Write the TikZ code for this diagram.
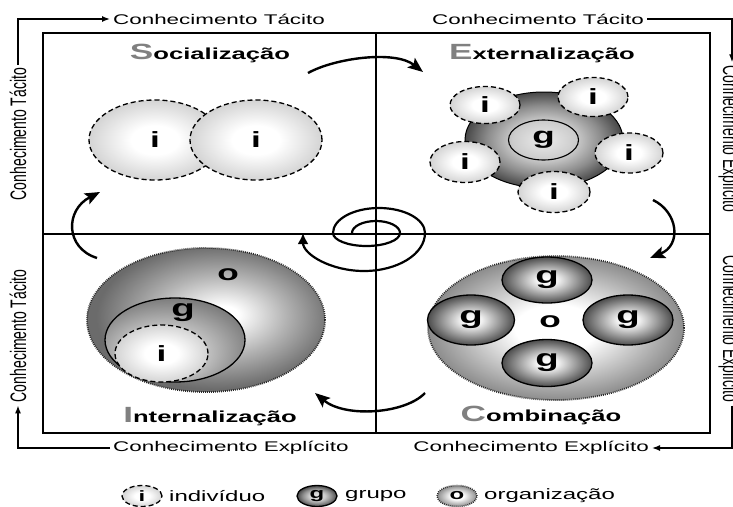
\documentclass[tikz,border=0pt]{standalone}
\usepackage{fontspec}
\setmainfont{Liberation Sans}[FakeStretch=1.6]
\newfontfamily\sidefont{Liberation Sans}[FakeStretch=0.625]
\usetikzlibrary{shapes.geometric,arrows.meta}

\definecolor{initgray}{gray}{0.5}

\pgfdeclareradialshading{indshade}{\pgfpoint{0bp}{0bp}}{color(0bp)=(white); color(9bp)=(white); color(25bp)=(black!17); color(50bp)=(black!17)}
\pgfdeclareradialshading{blobshade}{\pgfpoint{0bp}{0bp}}{color(0bp)=(black!8); color(10bp)=(black!20); color(18bp)=(black!45); color(25bp)=(black!72); color(50bp)=(black!72)}
\pgfdeclareradialshading{grpshade}{\pgfpoint{0bp}{0bp}}{color(0bp)=(white); color(6bp)=(black!5); color(25bp)=(black!70); color(50bp)=(black!70)}
\pgfdeclareradialshading{orgshade}{\pgfpoint{0bp}{0bp}}{color(0bp)=(white); color(8bp)=(white); color(25bp)=(black!45); color(50bp)=(black!45)}
\pgfdeclareradialshading{orgoffshade}{\pgfpoint{4bp}{2bp}}{color(0bp)=(white); color(3bp)=(white); color(14bp)=(black!30); color(25bp)=(black!58); color(50bp)=(black!58)}
\pgfdeclareradialshading{grpoffshade}{\pgfpoint{-5bp}{-10bp}}{color(0bp)=(white); color(10bp)=(black!15); color(36bp)=(black!62); color(60bp)=(black!62)}

\newcommand{\initial}[1]{{\color{initgray}\fontsize{22}{22}\selectfont #1}}

\tikzset{
  ind/.style={ellipse,draw,line width=1.3pt,dash pattern=on 5pt off 3pt,shading=indshade,inner sep=0pt,font=\bfseries\fontsize{22}{22}\selectfont},
  grp/.style={ellipse,draw,line width=1.3pt,shading=grpshade,inner sep=0pt,font=\bfseries\fontsize{24}{24}\selectfont},
  org/.style={ellipse,draw=black!85,line width=1.8pt,dash pattern=on 0.8pt off 1.2pt,shading=orgshade,inner sep=0pt},
  lbl/.style={font=\bfseries\fontsize{22}{22}\selectfont,inner sep=0pt},
  phase/.style={font=\bfseries\fontsize{16}{16}\selectfont,anchor=base},
  axis/.style={font=\fontsize{14}{14}\selectfont,inner sep=3pt},
  legtext/.style={font=\fontsize{15}{15}\selectfont,inner sep=0pt,anchor=west},
  vaxis/.style={font=\sidefont\fontsize{22.4}{22.4}\selectfont,inner sep=3pt},
  conn/.style={line width=1.4pt,-{Latex[length=8pt,width=6pt]}},
  cycle/.style={line width=2.4pt,-{Stealth[length=15pt,width=12pt,inset=3pt]}},
  legsym/.style={minimum width=40,minimum height=21,font=\bfseries\fontsize{15}{15}\selectfont},
}

\begin{document}
\begin{tikzpicture}[x=1pt,y=-1pt]
\useasboundingbox (0,0) rectangle (733,506);

% quadrants
\draw[line width=1.5pt] (43,33) rectangle (710,433);
\draw[line width=1.5pt] (376,33) -- (376,433);
\draw[line width=1.5pt] (43,234) -- (710,234);

% axis texts
\node[axis,anchor=west] (tTL) at (110,19) {Conhecimento Tácito};
\node[axis,anchor=east] (tTR) at (647,19) {Conhecimento Tácito};
\node[axis,anchor=west] (tBL) at (110,448) {Conhecimento Explícito};
\node[axis,anchor=east] (tBR) at (652,448) {Conhecimento Explícito};
\node[vaxis,rotate=90] (vTL) at (18,134) {Conhecimento Tácito};
\node[vaxis,rotate=90] (vBL) at (18,336) {Conhecimento Tácito};
\node[vaxis,rotate=-90] (vTR) at (729,139) {Conhecimento Explícito};
\node[vaxis,rotate=-90] (vBR) at (729,329) {Conhecimento Explícito};

\draw[conn] (vTL.east) |- (tTL.west);
\draw[conn] (tTR.east) -| ([xshift=3pt]vTR.west);
\draw[conn] ([xshift=3pt]vBR.east) |- (tBR.east);
\draw[conn] (tBL.west) -| (vBL.west);

% titles
\node[phase] (pS) at (210,59) {\initial{S}ocialização};
\node[phase] (pE) at (542,59) {\initial{E}xternalização};
\node[phase] (pI) at (210,422) {\initial{I}nternalização};
\node[phase] (pC) at (541,421) {\initial{C}ombinação};

% socializacao
\node[ind,minimum width=132,minimum height=80] (s1) at (155,140) {i};
\node[ind,minimum width=132,minimum height=80] (s2) at (256,140) {i};

% externalizacao
\node[grp,shading=blobshade,line width=1pt,minimum width=158,minimum height=96] (eblob) at (544,140) {};
\node[ellipse,draw,line width=1.1pt,inner sep=0pt,minimum width=70,minimum height=40,font=\bfseries\fontsize{23}{23}\selectfont] (eg) at (543.5,140) {g};
\node[ind,minimum width=70,minimum height=37] (e1) at (485,105) {i};
\node[ind,minimum width=70,minimum height=39] (e2) at (593,97) {i};
\node[ind,minimum width=70,minimum height=41] (e3) at (465,162) {i};
\node[ind,minimum width=68,minimum height=40] (e4) at (629,153) {i};
\node[ind,minimum width=72,minimum height=41] (e5) at (554,192) {i};

% combinacao
\node[org,minimum width=256,minimum height=144] (co) at (556,328) {};
\node[lbl] (col) at (550,322) {o};
\node[grp,minimum width=90,minimum height=46] (c1) at (547,280) {g};
\node[grp,minimum width=87,minimum height=50] (c2) at (471,320) {g};
\node[grp,minimum width=90,minimum height=50] (c3) at (628,320) {g};
\node[grp,minimum width=90,minimum height=47] (c4) at (547,363) {g};

% internalizacao
\node[org,shading=orgoffshade,minimum width=238,minimum height=144] (io) at (206,320) {};
\node[grp,shading=grpoffshade,minimum width=140,minimum height=84] (ig) at (175,340) {};
\node[ind,minimum width=93,minimum height=57] (ii) at (161.5,353.5) {i};
\node[lbl] (iol) at (228,275) {o};
\node[lbl,font=\bfseries\fontsize{24}{24}\selectfont] (igl) at (183,313) {g};

% cycle arrows
\coordinate (aS) at (308,73);
\coordinate (aE) at (423,72);
\coordinate (bE) at (653,200);
\coordinate (bC) at (650,258);
\coordinate (cC) at (425,393);
\coordinate (cI) at (315,393);
\coordinate (dI) at (97,258);
\coordinate (dS) at (100,192);
\draw[cycle] (aS) .. controls (335,58) and (395,50) .. (aE);
\draw[cycle] (bE) .. controls (678,212) and (682,245) .. (bC);
\draw[cycle] (cC) .. controls (405,414) and (345,418) .. (cI);
\draw[cycle] (dI) .. controls (65,248) and (65,210) .. (dS);

% spiral
\coordinate (sp) at (352,233);
\draw[line width=2.2pt,-{Latex[length=11pt,width=11pt]}] (sp)
  arc[start angle=180,end angle=360,x radius=24,y radius=12]
  arc[start angle=0,end angle=180,x radius=33.5,y radius=13]
  arc[start angle=180,end angle=360,x radius=46,y radius=25]
  arc[start angle=0,end angle=180,x radius=61,y radius=38];

% legend
\node[ind,legsym] (li) at (142,496) {i};
\node[legtext] (lit) at (169,496) {indivíduo};
\node[grp,shading=blobshade,legsym] (lg) at (317,496) {g};
\node[legtext] (lgt) at (345,496) {grupo};
\node[org,legsym,line width=1.6pt] (lo) at (457,496) {o};
\node[legtext] (lot) at (484,496) {organização};
\end{tikzpicture}
\end{document}
